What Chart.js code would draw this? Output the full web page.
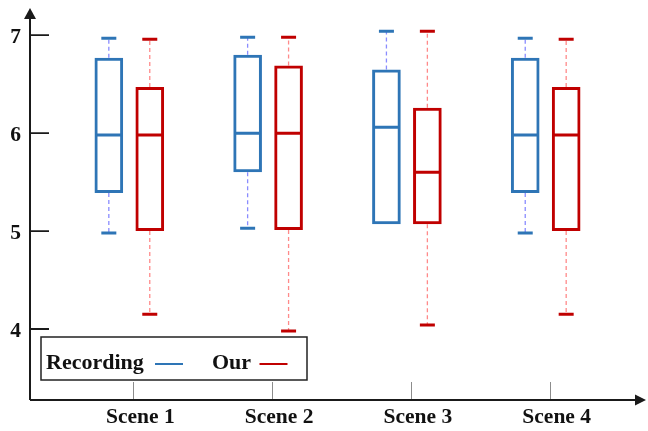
<!DOCTYPE html>
<html>
<head>
<meta charset="utf-8">
<script src="https://cdn.jsdelivr.net/npm/chart.js@4/dist/chart.umd.min.js"></script>
<style>
  html, body { margin: 0; padding: 0; background: #ffffff; }
  #wrap { width: 648px; height: 431px; position: relative; }
</style>
</head>
<body>
<div id="wrap"><canvas id="c"></canvas></div>
<script>
// Categories and y tick values
const categories = ['Scene 1', 'Scene 2', 'Scene 3', 'Scene 4'];
const yTickValues = [4, 5, 6, 7];
const seriesNames = ['Recording', 'Our'];

// Recording: five-number summaries per scene
const recMin = [4.98, 5.03, 5.07, 4.98];
const recQ1  = [5.39, 5.60, 5.07, 5.39];
const recMed = [5.98, 6.00, 6.06, 5.98];
const recQ3  = [6.77, 6.80, 6.65, 6.77];
const recMax = [6.97, 6.98, 7.04, 6.97];

// Our: five-number summaries per scene
const ourMin = [4.15, 3.98, 4.04, 4.15];
const ourQ1  = [5.00, 5.01, 5.07, 5.00];
const ourMed = [5.98, 6.00, 5.60, 5.98];
const ourQ3  = [6.47, 6.69, 6.26, 6.47];
const ourMax = [6.96, 6.98, 7.04, 6.96];

// Colours
const BLUE = '#2e75b6';
const RED = '#c00000';
const BLUE_DASH = '#8a8cff';
const RED_DASH = '#ff8a8a';
const AXIS = '#1a1a1a';
const FONT = '"Liberation Serif", "Times New Roman", serif';

const boxStats = [
  { min: recMin, med: recMed, max: recMax, color: BLUE, dash: BLUE_DASH },
  { min: ourMin, med: ourMed, max: ourMax, color: RED, dash: RED_DASH }
];

function boxData(q1, q3) {
  return categories.map((c, i) => ({ x: i + 1, y: [q1[i], q3[i]] }));
}

// Whiskers, caps and medians drawn from the scales and bar elements
const boxPlotParts = {
  id: 'boxPlotParts',
  beforeDatasetsDraw(chart) {
    const ctx = chart.ctx;
    const y = chart.scales.y;
    chart.data.datasets.forEach((ds, d) => {
      const st = boxStats[d];
      const meta = chart.getDatasetMeta(d);
      meta.data.forEach((el, i) => {
        const q1 = ds.data[i].y[0], q3 = ds.data[i].y[1];
        const cx = el.x;
        ctx.save();
        ctx.strokeStyle = st.dash;
        ctx.lineWidth = 1.3;
        ctx.setLineDash([4, 3]);
        ctx.beginPath();
        ctx.moveTo(cx, y.getPixelForValue(q3));
        ctx.lineTo(cx, y.getPixelForValue(st.max[i]));
        ctx.moveTo(cx, y.getPixelForValue(q1));
        ctx.lineTo(cx, y.getPixelForValue(st.min[i]));
        ctx.stroke();
        ctx.restore();
      });
    });
  },
  afterDatasetsDraw(chart) {
    const ctx = chart.ctx;
    const y = chart.scales.y;
    chart.data.datasets.forEach((ds, d) => {
      const st = boxStats[d];
      const meta = chart.getDatasetMeta(d);
      meta.data.forEach((el, i) => {
        const q1 = ds.data[i].y[0], q3 = ds.data[i].y[1];
        const cx = el.x;
        const half = el.width / 2;
        const capHalf = 7.5;
        ctx.save();
        ctx.strokeStyle = st.color;
        ctx.lineWidth = 3;
        ctx.beginPath();
        // median
        const ym = y.getPixelForValue(st.med[i]);
        ctx.moveTo(cx - half + 1.5, ym);
        ctx.lineTo(cx + half - 1.5, ym);
        // caps (only where a whisker extends past the box)
        if (st.max[i] > q3) {
          const yt = y.getPixelForValue(st.max[i]);
          ctx.moveTo(cx - capHalf, yt);
          ctx.lineTo(cx + capHalf, yt);
        }
        if (st.min[i] < q1) {
          const yb = y.getPixelForValue(st.min[i]);
          ctx.moveTo(cx - capHalf, yb);
          ctx.lineTo(cx + capHalf, yb);
        }
        ctx.stroke();
        ctx.restore();
      });
    });
  },
  afterDraw(chart) {
    const ctx = chart.ctx;
    const a = chart.chartArea;
    const x = chart.scales.x;
    const y = chart.scales.y;
    ctx.save();
    // x tick marks (inward)
    ctx.strokeStyle = '#8c8c8c';
    ctx.lineWidth = 1;
    ctx.beginPath();
    categories.forEach((c, i) => {
      const px = Math.round(x.getPixelForValue(i + 1) + 4) + 0.5;
      ctx.moveTo(px, a.bottom - 18);
      ctx.lineTo(px, a.bottom);
    });
    ctx.stroke();
    // y tick marks (inward)
    ctx.strokeStyle = AXIS;
    ctx.lineWidth = 1.8;
    ctx.beginPath();
    yTickValues.forEach(v => {
      const py = y.getPixelForValue(v);
      ctx.moveTo(a.left, py);
      ctx.lineTo(a.left + 19, py);
    });
    ctx.stroke();
    // axes with arrowheads
    ctx.strokeStyle = AXIS;
    ctx.fillStyle = AXIS;
    ctx.lineWidth = 2;
    ctx.beginPath();
    ctx.moveTo(a.left, a.bottom);
    ctx.lineTo(a.left, a.top + 8);
    ctx.moveTo(a.left, a.bottom);
    ctx.lineTo(a.right - 9, a.bottom);
    ctx.stroke();
    ctx.beginPath();
    ctx.moveTo(a.left, a.top);
    ctx.lineTo(a.left - 6, a.top + 11);
    ctx.lineTo(a.left + 6, a.top + 11);
    ctx.closePath();
    ctx.fill();
    ctx.beginPath();
    ctx.moveTo(a.right, a.bottom);
    ctx.lineTo(a.right - 11, a.bottom - 5.5);
    ctx.lineTo(a.right - 11, a.bottom + 5.5);
    ctx.closePath();
    ctx.fill();
    // legend box
    const lx = a.left + 11, ly = a.bottom - 63, lw = 266, lh = 43;
    ctx.fillStyle = '#ffffff';
    ctx.fillRect(lx, ly, lw, lh);
    ctx.strokeStyle = '#222222';
    ctx.lineWidth = 1.5;
    ctx.strokeRect(lx, ly, lw, lh);
    ctx.font = 'bold 22px ' + FONT;
    ctx.textBaseline = 'middle';
    ctx.textAlign = 'left';
    const ty = ly + 26;
    const items = [
      { text: seriesNames[0], tx: lx + 5, sx: lx + 114, color: BLUE },
      { text: seriesNames[1], tx: lx + 171, sx: lx + 218.5, color: RED }
    ];
    items.forEach(it => {
      ctx.fillStyle = '#111111';
      ctx.fillText(it.text, it.tx, ty);
      ctx.strokeStyle = it.color;
      ctx.lineWidth = 2;
      ctx.beginPath();
      ctx.moveTo(it.sx, ty + 1);
      ctx.lineTo(it.sx + 28, ty + 1);
      ctx.stroke();
    });
    ctx.restore();
  }
};

const chart = new Chart(document.getElementById('c'), {
  type: 'bar',
  data: {
    datasets: [
      {
        label: seriesNames[0],
        data: boxData(recQ1, recQ3),
        borderColor: BLUE,
        backgroundColor: 'rgba(255,255,255,0)',
        borderWidth: 3,
        borderSkipped: false
      },
      {
        label: seriesNames[1],
        data: boxData(ourQ1, ourQ3),
        borderColor: RED,
        backgroundColor: 'rgba(255,255,255,0)',
        borderWidth: 3,
        borderSkipped: false
      }
    ]
  },
  options: {
    responsive: true,
    maintainAspectRatio: false,
    animation: false,
    categoryPercentage: 0.59,
    barPercentage: 0.70,
    layout: { padding: { top: 8, right: 2, left: 0, bottom: 0 } },
    plugins: {
      legend: { display: false },
      tooltip: { enabled: false }
    },
    scales: {
      x: {
        type: 'linear',
        offset: false,
        min: 0.2846,
        max: 4.7226,
        grid: { display: false, drawTicks: false, offset: false },
        border: { display: false },
        afterBuildTicks: s => { s.ticks = categories.map((c, i) => ({ value: i + 1 })); },
        afterFit: s => { s.height = 31; s.paddingLeft = 0; s.paddingRight = 0; },
        ticks: {
          callback: v => categories[v - 1],
          labelOffset: 11,
          padding: 5,
          maxRotation: 0,
          color: '#111111',
          font: { family: FONT, size: 21.5, weight: 'bold' }
        }
      },
      y: {
        min: 3.275,
        max: 7.278,
        grid: { display: false, drawTicks: false },
        border: { display: false },
        afterBuildTicks: s => { s.ticks = yTickValues.map(v => ({ value: v })); },
        afterFit: s => { s.width = 30; s.paddingTop = 0; s.paddingBottom = 0; },
        ticks: {
          callback: v => String(v),
          padding: 9,
          labelOffset: 2,
          color: '#111111',
          font: { family: FONT, size: 21.5, weight: 'bold' }
        }
      }
    }
  },
  plugins: [boxPlotParts]
});
</script>
</body>
</html>
